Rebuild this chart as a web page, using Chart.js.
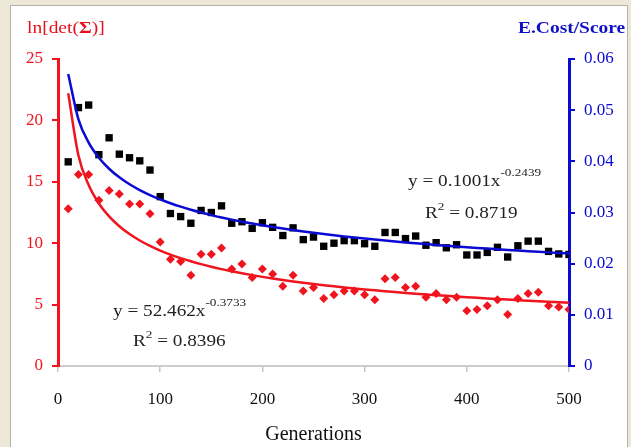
<!DOCTYPE html>
<html>
<head>
<meta charset="utf-8">
<script src="https://cdn.jsdelivr.net/npm/chart.js@4/dist/chart.umd.min.js"></script>
<style>
  html, body { margin: 0; padding: 0; }
  #wrap { position: relative; width: 631px; height: 447px; background: #ece7d6; overflow: hidden; font-family: "Liberation Serif", "Times New Roman", serif; }
  #panel { position: absolute; left: 10px; top: 5px; width: 616px; height: 460px; background: #ffffff; border: 1px solid #b4b2aa; }
  canvas { position: absolute; left: 0; top: 0; }
  .t { position: absolute; white-space: nowrap; line-height: 16px; transform-origin: 0 0; }
  .eq { font-size: 16px; color: #222; transform: scaleX(1.2); }
  .sup { position: relative; font-size: 11px; }
</style>
</head>
<body>
<div id="wrap">
  <div id="panel"></div>
  <canvas id="c" width="631" height="447"></canvas>
  <div class="t" style="left:27px; top:20px; font-size:16.5px; color:#e8101c; transform:scaleX(1.18);">ln[det(<b>Σ</b>)]</div>
  <div class="t" id="rt" style="top:20px; font-size:16.5px; color:#1010c8; font-weight:bold; transform:scaleX(1.18);">E.Cost/Score</div>
  <div class="t eq" style="left:408px; top:173px;">y = 0.1001x<span class="sup" style="top:-10px;">-0.2439</span></div>
  <div class="t eq" style="left:425px; top:205px;">R<span class="sup" style="top:-8px;">2</span> = 0.8719</div>
  <div class="t eq" style="left:113px; top:303px;">y = 52.462x<span class="sup" style="top:-10px;">-0.3733</span></div>
  <div class="t eq" style="left:133px; top:333px;">R<span class="sup" style="top:-8px;">2</span> = 0.8396</div>
</div>
<script>
// Generations (x values)
const generations = [10,20,30,40,50,60,70,80,90,100,110,120,130,140,150,160,170,180,190,200,
  210,220,230,240,250,260,270,280,290,300,310,320,330,340,350,360,370,380,390,400,
  410,420,430,440,450,460,470,480,490,500];

// ln[det(Σ)] (left axis, red diamonds)
const lnDetSigma = [12.8,15.6,15.6,13.5,14.3,14.0,13.2,13.2,12.4,10.1,8.7,8.5,7.4,9.1,9.1,9.6,7.9,8.3,7.2,7.9,
  7.5,6.5,7.4,6.1,6.4,5.5,5.8,6.1,6.1,5.8,5.4,7.1,7.2,6.4,6.5,5.6,5.9,5.4,5.6,4.5,
  4.6,4.9,5.4,4.2,5.5,5.9,6.0,4.9,4.8,4.6];

// E.Cost/Score (right axis, black squares)
const eCostScore = [0.0399,0.0505,0.0510,0.0413,0.0446,0.0414,0.0407,0.0401,0.0383,0.0331,0.0298,0.0292,0.0279,0.0304,0.0300,0.0313,0.0279,0.0282,0.0269,0.0280,
  0.0271,0.0255,0.0270,0.0247,0.0252,0.0234,0.0240,0.0245,0.0245,0.0239,0.0234,0.0261,0.0261,0.0249,0.0254,0.0236,0.0241,0.0231,0.0237,0.0217,
  0.0217,0.0222,0.0232,0.0213,0.0235,0.0244,0.0244,0.0224,0.0219,0.0218];

// Power trendline coefficients as printed on the chart: y = a * x^b
const redFit = [52.462, -0.3733];
const blueFit = [0.1001, -0.2439];

// Axis tick settings
const leftTicks = [0, 5, 10, 15, 20, 25];
const rightTicks = [0, 0.01, 0.02, 0.03, 0.04, 0.05, 0.06];
const xTicks = [0, 100, 200, 300, 400, 500];

// place right title flush to the right
(function(){
  const rt = document.getElementById('rt');
  const w = rt.getBoundingClientRect().width;
  rt.style.left = (625 - w) + 'px';
})();

const pts = (ys) => generations.map((g, i) => ({x: g, y: ys[i]}));
const fit = (c) => generations.map(g => ({x: g, y: c[0] * Math.pow(g, c[1])}));

const RED = '#f0141e';
const BLUE = '#0a0ad2';
const tickFont = {family: '"Liberation Serif", "Times New Roman", serif', size: 17};

new Chart(document.getElementById('c'), {
  type: 'line',
  data: {
    datasets: [
      {data: fit(blueFit), yAxisID: 'y1', borderColor: BLUE, borderWidth: 2.5, pointRadius: 0, fill: false, cubicInterpolationMode: 'monotone', order: 0},
      {data: fit(redFit), yAxisID: 'y', borderColor: RED, borderWidth: 2.5, pointRadius: 0, fill: false, cubicInterpolationMode: 'monotone', order: 0},
      {data: pts(eCostScore), yAxisID: 'y1', showLine: false, pointStyle: 'rect', pointRadius: 5.2, pointBackgroundColor: '#000', pointBorderWidth: 0, borderColor: '#000', order: 1},
      {data: pts(lnDetSigma), yAxisID: 'y', showLine: false, pointStyle: 'rectRot', pointRadius: 4.5, pointBackgroundColor: RED, pointBorderWidth: 0, borderColor: RED, order: 1}
    ]
  },
  options: {
    responsive: false,
    animation: false,
    devicePixelRatio: 1,
    layout: {padding: {top: 59, left: 0, right: 0, bottom: 0}},
    plugins: {legend: {display: false}, tooltip: {enabled: false}},
    scales: {
      x: {
        type: 'linear', min: 0, max: 500,
        afterBuildTicks: (s) => { s.ticks = xTicks.map(v => ({value: v})); },
        afterFit: (s) => { s.height = 81; },
        grid: {drawOnChartArea: false, color: '#c4c4c4', lineWidth: 1.5, tickLength: 6},
        border: {color: '#cdcdcd', width: 2},
        ticks: {color: '#111', font: tickFont, padding: 17, maxRotation: 0},
        title: {display: true, text: 'Generations', color: '#111', font: {family: '"Liberation Serif", "Times New Roman", serif', size: 20}, padding: {top: 0, bottom: 0}}
      },
      y: {
        position: 'left', min: 0, max: 25,
        afterBuildTicks: (s) => { s.ticks = leftTicks.map(v => ({value: v})); },
        afterFit: (s) => { s.width = 58; },
        grid: {drawOnChartArea: false, color: RED, lineWidth: 2, tickLength: 6},
        border: {color: RED, width: 3},
        ticks: {color: RED, font: tickFont, padding: 9}
      },
      y1: {
        position: 'right', min: 0, max: 0.06,
        afterBuildTicks: (s) => { s.ticks = rightTicks.map(v => ({value: v})); },
        afterFit: (s) => { s.width = 62; },
        grid: {drawOnChartArea: false, color: BLUE, lineWidth: 2, tickLength: 6},
        border: {color: BLUE, width: 3},
        ticks: {color: BLUE, font: tickFont, padding: 9, callback: (v) => (v === 0 ? '0' : v.toFixed(2))}
      }
    }
  }
});
</script>
</body>
</html>
